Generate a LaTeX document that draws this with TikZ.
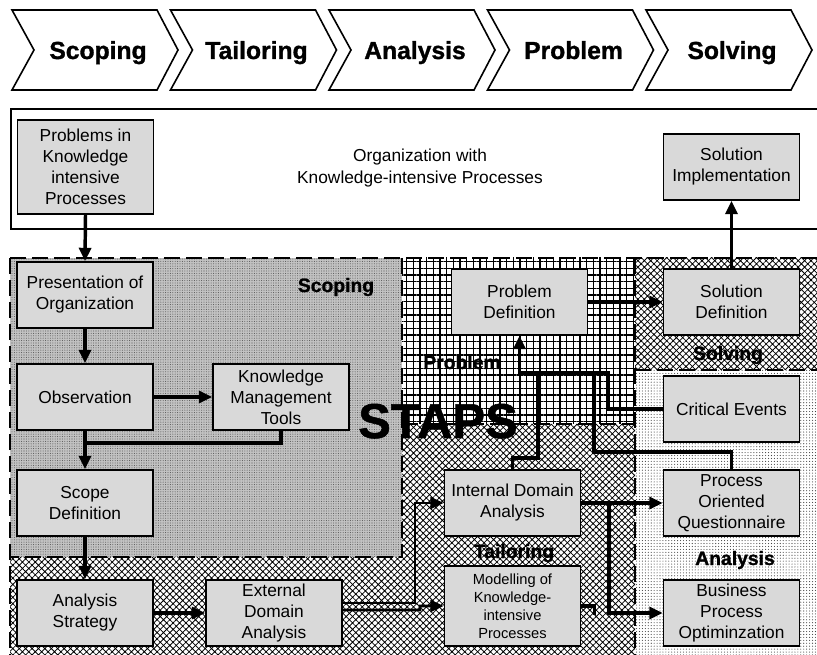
\documentclass[tikz,border=0pt]{standalone}
\usepackage{fontspec}
\setmainfont{Liberation Sans}
\newfontface\heavy{Liberation Sans Bold}[FakeBold=1.2]
\usetikzlibrary{patterns.meta,arrows.meta,calc}
\definecolor{boxgray}{RGB}{217,217,217}
\begin{document}
\begin{tikzpicture}[x=0.75pt,y=-0.75pt,
  box/.style={draw, line width=1.3pt, fill=boxgray, minimum width=102pt, minimum height=49.5pt, inner sep=1pt, align=center, font=\fontsize{13}{15.75}\selectfont},
  conn/.style={line width=2.6pt, -{Triangle[length=10pt,width=9pt]}},
  wire/.style={line width=2.6pt},
  thinconn/.style={line width=2pt, -{Triangle[length=10pt,width=9pt]}},
  zone/.style={line width=1.6pt, dash pattern=on 12pt off 4.5pt},
  lab/.style={anchor=base, font=\fontsize{14.5}{17}\heavy},
  chev/.style={draw, line width=1.2pt, fill=white},
  chevtxt/.style={anchor=base, font=\fontsize{18.5}{22}\heavy}]

\useasboundingbox (0,0) rectangle (817,655);
\fill[white] (0,0) rectangle (817,655);

% chevrons
\foreach \i/\t in {0/Scoping,1/Tailoring,2/Analysis,3/Problem,4/Solving} {
  \pgfmathsetmacro\xa{12+158.5*\i}
  \draw[chev] (\xa,10) -- ++(145,0) -- ++(21,40) -- ++(-21,40) -- ++(-145,0) -- ++(22,-40) -- cycle;
  \node[chevtxt] (c\i) at (\xa+86,59) {\t};
}

% organization box
\node[draw, line width=1.4pt, minimum width=607.5pt, minimum height=90pt, inner sep=0pt, anchor=north west] (org) at (10,108) {};
\node[align=center, font=\fontsize{13}{16.5}\selectfont] (orgtxt) at (420,168) {Organization with\\Knowledge-intensive Processes};

% regions
\fill[gray!48] (10,258) rectangle (402,557);
\fill[pattern={Dots[distance=1.8pt,radius=0.4pt]}, pattern color=black!65] (10,258) rectangle (402,557);
\fill[pattern={Hatch[angle=0,distance=5pt,line width=0.85pt]}, pattern color=black] (402,258) rectangle (635,424);
\fill[pattern={Hatch[angle=45,distance=3.4pt,line width=0.6pt]}, pattern color=black] (635,258) rectangle (817,370);
\fill[pattern={Dots[distance=2.2pt,radius=0.42pt]}, pattern color=black!75] (635,370) rectangle (817,655);
\fill[pattern={Hatch[angle=45,distance=3.4pt,line width=0.6pt]}, pattern color=black] (10,557) -- (402,557) -- (402,424) -- (635,424) -- (635,655) -- (10,655) -- cycle;

\draw[zone] (10,258) -- (817,258);
\draw[zone] (10,258) -- (10,655);
\draw[zone] (402,258) -- (402,557) -- (10,557);
\draw[zone] (402,424) -- (635,424);
\draw[zone] (635,258) -- (635,655);
\draw[zone] (635,370) -- (817,370);

% boxes
\node[box, minimum height=70.5pt] (prob) at (85.5,167) {Problems in\\Knowledge\\intensive\\Processes};
\node[box] (simp) at (731.5,167) {Solution\\Implementation};
\node[box] (pres) at (85,295) {Presentation of\\Organization};
\node[box] (obs) at (85,397) {Observation};
\node[box] (kmt) at (281,397) {Knowledge\\Management\\Tools};
\node[box] (scope) at (85,503) {Scope\\Definition};
\node[box] (astr) at (85,613) {Analysis\\Strategy};
\node[box] (ext) at (274,613) {External\\Domain\\Analysis};
\node[box] (pdef) at (519.5,302) {Problem\\Definition};
\node[box] (sdef) at (731.5,302) {Solution\\Definition};
\node[box] (cev) at (731.5,409) {Critical Events};
\node[box] (ida) at (512.5,503) {Internal Domain\\Analysis};
\node[box, minimum height=60pt, font=\fontsize{11}{13.5}\selectfont] (mod) at (512.5,606) {Modelling of\\Knowledge-\\intensive\\Processes};
\node[box] (poq) at (731.5,503) {Process\\Oriented\\Questionnaire};
\node[box] (bpo) at (731.5,613) {Business\\Process\\Optiminzation};

% labels
\node[lab] (lscope) at (336,292) {Scoping};
\node[lab] (lprob) at (462,369) {Problem};
\node[lab] (lsolv) at (728,360) {Solving};
\node[lab] (ltail) at (514,558) {Tailoring};
\node[lab] (lana) at (735,565) {Analysis};
\node[anchor=base, font=\fontsize{36.7}{40}\heavy] (staps) at (438,438) {STAPS};

% junction coordinates
\coordinate (jk) at (85,443);
\coordinate (je) at (415,603);
\coordinate (jm) at (420,610);
\coordinate (ji) at (538,458);
\coordinate (ja) at (538,373);
\coordinate (jq) at (594,452);
\coordinate (jb) at (594,373);
\coordinate (jc) at (608,373);
\coordinate (jr) at (609,503);
\coordinate (js) at (593,613);

% connectors
\draw[conn] (prob.south) -- (pres.north);
\draw[conn] (pres.south) -- (obs.north);
\draw[conn] (obs.east) -- (kmt.west);
\draw[conn] (obs.south) -- (scope.north);
\draw[wire] (kmt.south) |- (jk);
\draw[conn] (scope.south) -- (astr.north);
\draw[conn] (astr.east) -- (ext.west);
\draw[thinconn] ([yshift=7.5pt]ext.east) -- (je) |- (ida.west);
\draw[thinconn] ([yshift=2.3pt]ext.east) -- (jm) |- (mod.west);
\draw[conn] (pdef.east) -- (sdef.west);
\draw[conn] (sdef.north) -- (simp.south);
\draw[conn] (cev.west) -| (jc) -| (pdef.south);
\draw[wire] (ida.north) |- (ji) -- (ja);
\draw[wire] (poq.north) |- (jq) -- (jb);
\draw[conn] (ida.east) -- (poq.west);
\draw[conn] (jr) |- (bpo.west);
\draw[wire] (mod.east) -- ++(13,0) |- (js);
\end{tikzpicture}
\end{document}
